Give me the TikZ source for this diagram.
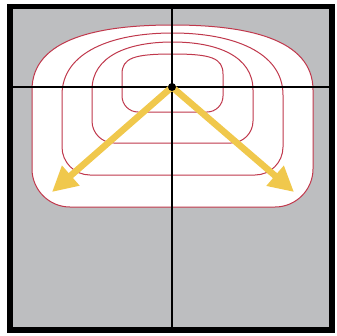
\documentclass[tikz,border=0pt]{standalone}
\usetikzlibrary{arrows.meta}
\definecolor{bggray}{RGB}{189,190,192}
\definecolor{contred}{RGB}{192,56,76}
\definecolor{arrowyellow}{RGB}{240,200,76}
\newcommand\mycontour[7]{% L, B, rb, S, c1y, c2x, T
  \draw[contour]
    (172.5,#2) -- (#1+#3,#2)
    .. controls (#1+0.45*#3,#2) and (#1,#2-0.45*#3) .. (#1,#2-#3)
    -- (#1,#4)
    .. controls (#1,#5) and (#6,#7) .. (172.5,#7)
    .. controls (345-#6,#7) and (345-#1,#5) .. (345-#1,#4)
    -- (345-#1,#2-#3)
    .. controls (345-#1,#2-0.45*#3) and (345-#1-0.45*#3,#2) .. (345-#1-#3,#2)
    -- cycle;}
\tikzset{
  contour/.style={draw=contred, line width=1pt},
  axis/.style={draw=black, line width=1.3pt},
  bigarrow/.style={draw=arrowyellow, line width=6.5pt,
    -{Triangle[length=25pt,width=25pt]}},
  frame/.style={draw=black, line width=5.5pt, fill=bggray},
  dot/.style={circle, fill=black, inner sep=0pt, minimum size=8pt}
}
\begin{document}
\begin{tikzpicture}[x=1pt,y=-1pt]
\useasboundingbox (0,0) rectangle (337,335);
\draw[frame] (10,6.5) rectangle (332,330);
% outer white fill
\fill[white]
    (172.5,207) -- (70,207)
    .. controls (49,207) and (32,190) .. (32,170)
    -- (32,90) .. controls (32,38) and (100,25) .. (172.5,25)
    .. controls (245,25) and (313,38) .. (313,90)
    -- (313,170) .. controls (313,190) and (296,207) .. (275,207) -- cycle;
\mycontour{32}{207}{38}{90}{38}{100}{25}
\mycontour{62}{175}{28}{95}{52}{112}{33}
\mycontour{92}{143}{22}{90}{56}{128}{42}
\mycontour{122}{112}{16}{74}{58}{134}{54}
% axes
\coordinate (vt) at (172,9);
\coordinate (vb) at (172,328);
\coordinate (hl) at (13,87);
\coordinate (hr) at (330,87);
\draw[axis] (vt) -- (vb);
\draw[axis] (hl) -- (hr);
\coordinate (oc) at (172,87);
\coordinate (lt) at (52,192);
\coordinate (rt) at (294,192);
\draw[bigarrow] (oc) -- (lt);
\draw[bigarrow] (oc) -- (rt);
\node[dot] (o) at (oc) {};
\end{tikzpicture}
\end{document}
